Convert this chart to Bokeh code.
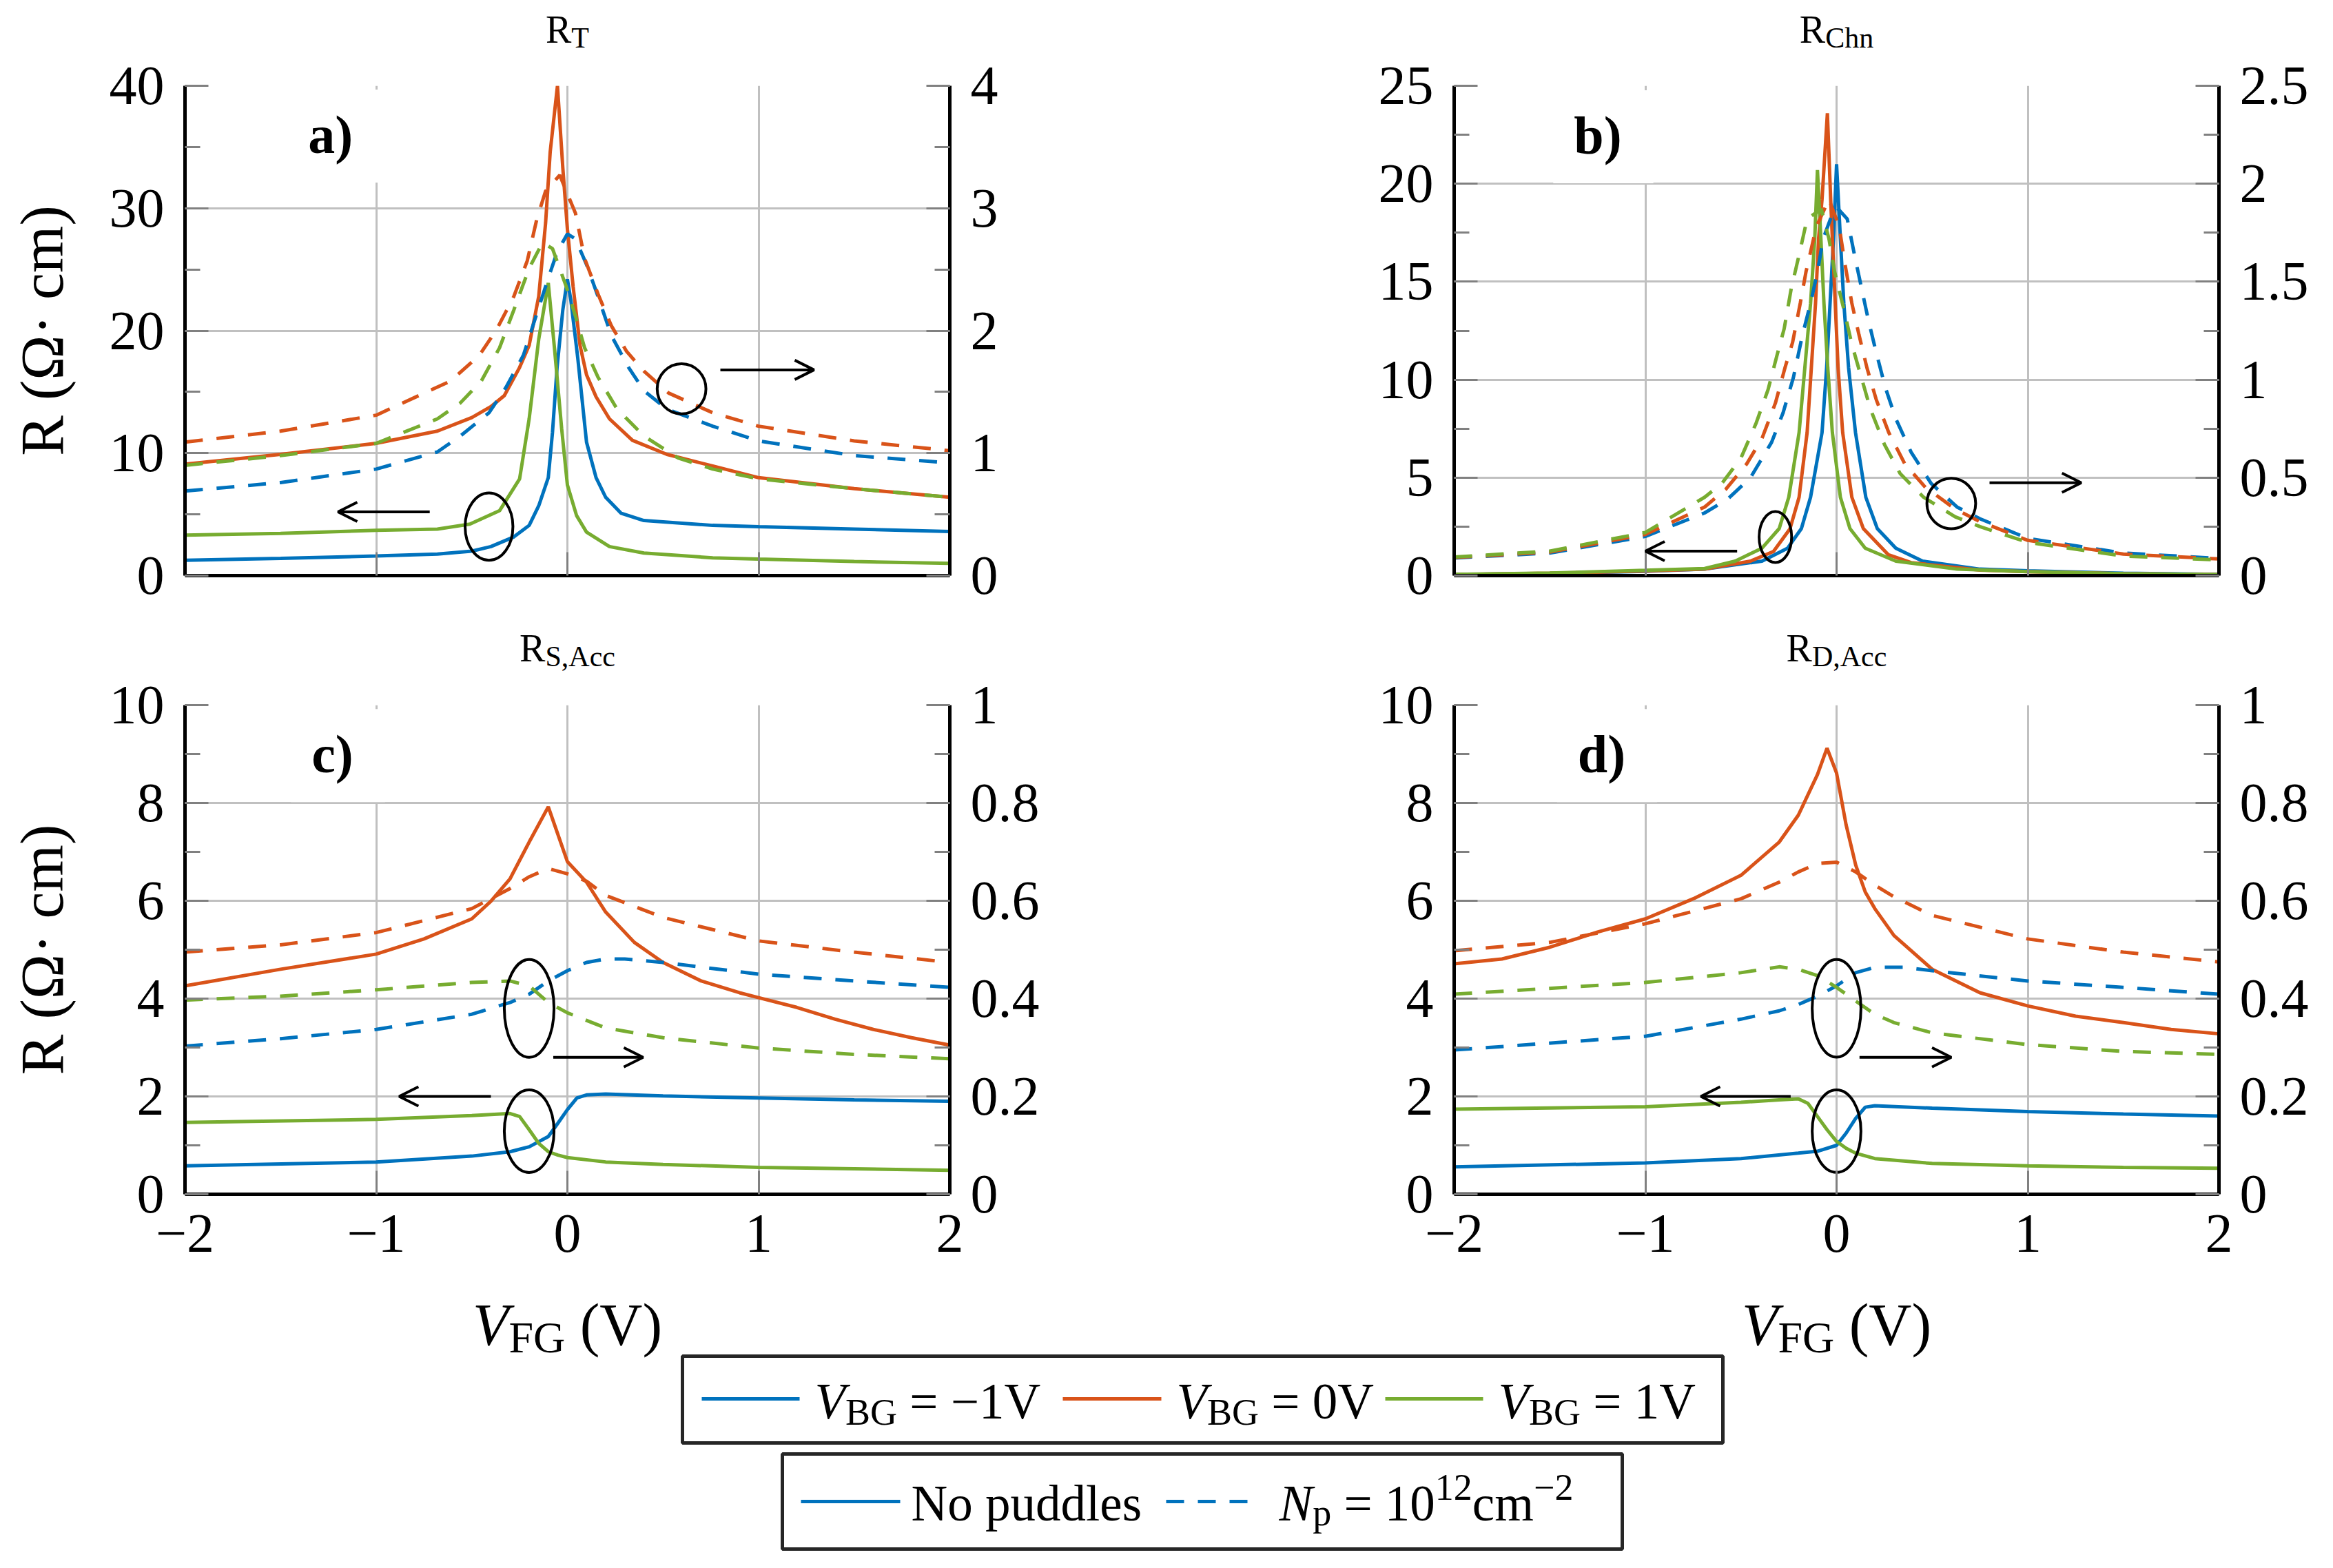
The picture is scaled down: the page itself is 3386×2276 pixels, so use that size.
from bokeh.plotting import figure
from bokeh.models import (Range1d, LinearAxis, SingleIntervalTicker, CustomJSTickFormatter,
                          Label, Arrow, OpenHead)
from bokeh.layouts import column, row
from bokeh.embed import file_html
from bokeh.resources import INLINE
from bokeh.core.properties import value

BLUE = "#0072BD"
ORANGE = "#D95319"
GREEN = "#77AC30"
FONT = "Liberation Serif"

# ---------------- data (solid = no puddles, left axis; dashed = Np, right axis) -------------
# panel a : R_T
a_sb_x = [-2, -1.5, -1, -0.68, -0.5, -0.4, -0.28, -0.2, -0.15, -0.1, -0.078, -0.054, -0.024, 0.0, 0.018, 0.054, 0.1, 0.15, 0.2, 0.28, 0.4, 0.76, 1.0, 1.5, 2.0]
a_sb_y = [1.25, 1.4, 1.6, 1.76, 2.0, 2.37, 3.16, 4.1, 5.7, 8.0, 11.7, 17.0, 21.7, 24.2, 22.5, 17.8, 10.9, 8.0, 6.4, 5.1, 4.5, 4.1, 4.0, 3.8, 3.6]
a_so_x = [-2, -1.5, -1, -0.68, -0.5, -0.4, -0.33, -0.25, -0.2, -0.15, -0.114, -0.09, -0.052, -0.024, 0.0, 0.03, 0.066, 0.1, 0.15, 0.22, 0.34, 0.52, 0.76, 1.0, 1.5, 2.0]
a_so_y = [9.1, 9.9, 10.8, 11.8, 12.9, 13.8, 14.7, 17.0, 18.8, 22.8, 28.8, 34.6, 40.0, 33.3, 28.3, 23.6, 18.8, 16.4, 14.6, 12.8, 11.05, 9.9, 8.95, 8.0, 7.1, 6.4]
a_sg_x = [-2, -1.5, -1, -0.68, -0.51, -0.355, -0.25, -0.2, -0.15, -0.1, -0.066, -0.03, 0.0, 0.048, 0.1, 0.22, 0.4, 0.76, 1.0, 1.5, 2.0]
a_sg_y = [3.3, 3.45, 3.7, 3.8, 4.2, 5.3, 7.9, 12.8, 19.3, 23.9, 18.3, 12.0, 7.4, 4.9, 3.55, 2.37, 1.84, 1.45, 1.35, 1.15, 1.0]
a_do_x = [-2, -1.5, -1, -0.61, -0.46, -0.37, -0.28, -0.21, -0.16, -0.114, -0.04, -0.006, 0.042, 0.09, 0.16, 0.23, 0.31, 0.40, 0.53, 0.76, 1.0, 1.5, 2.0]
a_do_y = [1.09, 1.18, 1.31, 1.59, 1.80, 2.01, 2.28, 2.57, 2.91, 3.14, 3.27, 3.14, 2.96, 2.59, 2.30, 2.04, 1.83, 1.67, 1.49, 1.33, 1.22, 1.10, 1.02]
a_db_x = [-2, -1.5, -1, -0.68, -0.56, -0.41, -0.32, -0.23, -0.16, -0.10, -0.054, 0.0, 0.042, 0.10, 0.16, 0.23, 0.32, 0.40, 0.52, 0.76, 1.0, 1.5, 2.0]
a_db_y = [0.69, 0.76, 0.87, 1.01, 1.14, 1.33, 1.54, 1.80, 2.14, 2.43, 2.64, 2.79, 2.75, 2.54, 2.28, 1.96, 1.70, 1.51, 1.36, 1.22, 1.10, 0.98, 0.92]
a_dg_x = [-2, -1.5, -1, -0.68, -0.56, -0.45, -0.355, -0.28, -0.20, -0.13, -0.078, -0.006, 0.042, 0.09, 0.16, 0.26, 0.40, 0.58, 0.76, 1.0, 1.5, 2.0]
a_dg_y = [0.90, 0.98, 1.08, 1.28, 1.41, 1.59, 1.86, 2.17, 2.51, 2.72, 2.67, 2.36, 2.12, 1.86, 1.62, 1.36, 1.14, 0.96, 0.87, 0.79, 0.71, 0.64]

# panel b : R_Chn
b_sb_x = [-2, -1.5, -1, -0.69, -0.39, -0.256, -0.184, -0.136, -0.076, -0.052, -0.034, -0.016, 0.0, 0.02, 0.038, 0.063, 0.099, 0.153, 0.213, 0.31, 0.45, 0.75, 1.0, 1.5, 2.0]
b_sb_y = [0.05, 0.11, 0.22, 0.33, 0.74, 1.4, 2.4, 4.0, 7.3, 10.6, 13.9, 17.2, 21.0, 17.2, 13.9, 10.6, 7.3, 4.0, 2.4, 1.4, 0.74, 0.33, 0.25, 0.12, 0.06]
b_so_x = [-2, -1.5, -1, -0.69, -0.45, -0.33, -0.244, -0.196, -0.154, -0.132, -0.11, -0.094, -0.076, -0.048, -0.03, -0.022, -0.007, 0.008, 0.032, 0.08, 0.14, 0.27, 0.39, 0.75, 1.0, 1.5, 2.0]
b_so_y = [0.05, 0.12, 0.24, 0.33, 0.74, 1.23, 2.38, 4.0, 7.3, 10.6, 13.9, 17.2, 19.2, 23.6, 19.0, 17.2, 13.9, 10.6, 7.3, 4.0, 2.4, 1.07, 0.66, 0.28, 0.2, 0.1, 0.05]
b_sg_x = [-2, -1.5, -1, -0.69, -0.53, -0.39, -0.30, -0.25, -0.196, -0.166, -0.136, -0.114, -0.1, -0.082, -0.066, -0.046, -0.022, 0.02, 0.07, 0.15, 0.31, 0.63, 1.0, 1.5, 2.0]
b_sg_y = [0.06, 0.13, 0.27, 0.36, 0.74, 1.4, 2.4, 4.0, 7.3, 10.6, 13.9, 17.2, 20.7, 17.2, 13.9, 10.6, 7.3, 4.0, 2.4, 1.4, 0.74, 0.33, 0.2, 0.1, 0.05]
b_do_x = [-2, -1.5, -1, -0.69, -0.58, -0.47, -0.39, -0.32, -0.27, -0.23, -0.19, -0.16, -0.106, -0.04, 0.014, 0.044, 0.08, 0.117, 0.159, 0.207, 0.273, 0.357, 0.465, 0.62, 0.74, 1.0, 1.5, 2.0]
b_do_y = [0.092, 0.12, 0.21, 0.35, 0.44, 0.57, 0.70, 0.88, 1.06, 1.19, 1.39, 1.55, 1.78, 1.92, 1.78, 1.59, 1.39, 1.23, 1.06, 0.90, 0.73, 0.57, 0.45, 0.34, 0.28, 0.18, 0.11, 0.085]
b_db_x = [-2, -1.5, -1, -0.69, -0.57, -0.45, -0.34, -0.28, -0.226, -0.178, -0.136, -0.10, -0.07, -0.028, 0.0, 0.056, 0.093, 0.13, 0.165, 0.207, 0.255, 0.31, 0.39, 0.495, 0.63, 0.75, 1.0, 1.5, 2.0]
b_db_y = [0.09, 0.115, 0.20, 0.32, 0.39, 0.50, 0.68, 0.83, 1.01, 1.23, 1.39, 1.55, 1.72, 1.83, 1.88, 1.82, 1.64, 1.47, 1.31, 1.14, 0.96, 0.80, 0.63, 0.47, 0.35, 0.29, 0.19, 0.115, 0.088]
b_dg_x = [-2, -1.5, -1, -0.69, -0.6, -0.5, -0.42, -0.358, -0.31, -0.274, -0.238, -0.2, -0.154, -0.08, -0.04, -0.01, 0.038, 0.08, 0.13, 0.177, 0.25, 0.333, 0.455, 0.62, 0.75, 1.0, 1.5, 2.0]
b_dg_y = [0.095, 0.125, 0.22, 0.40, 0.47, 0.60, 0.78, 0.95, 1.13, 1.26, 1.46, 1.62, 1.82, 1.87, 1.72, 1.55, 1.36, 1.18, 1.01, 0.85, 0.67, 0.52, 0.40, 0.30, 0.25, 0.17, 0.10, 0.08]

# panel c : R_S,Acc
c_so_x = [-2, -1.5, -1, -0.75, -0.5, -0.4, -0.3, -0.2, -0.1, 0.0, 0.1, 0.2, 0.35, 0.5, 0.7, 0.9, 1.0, 1.2, 1.4, 1.6, 1.8, 2.0]
c_so_y = [4.26, 4.6, 4.91, 5.22, 5.63, 5.99, 6.45, 7.2, 7.92, 6.8, 6.38, 5.77, 5.15, 4.74, 4.36, 4.12, 4.02, 3.82, 3.58, 3.37, 3.2, 3.05]
c_sb_x = [-2, -1, -0.5, -0.3, -0.2, -0.1, -0.05, 0.0, 0.05, 0.1, 0.2, 0.5, 1.0, 1.5, 2.0]
c_sb_y = [0.58, 0.66, 0.78, 0.87, 0.97, 1.18, 1.45, 1.73, 1.97, 2.03, 2.05, 2.01, 1.97, 1.93, 1.90]
c_sg_x = [-2, -1, -0.5, -0.3, -0.25, -0.2, -0.15, -0.1, -0.05, 0.0, 0.2, 0.5, 1.0, 1.5, 2.0]
c_sg_y = [1.47, 1.53, 1.61, 1.65, 1.59, 1.32, 1.04, 0.87, 0.80, 0.75, 0.66, 0.61, 0.55, 0.52, 0.49]
c_do_x = [-2, -1.5, -1, -0.5, -0.3, -0.2, -0.1, 0.0, 0.1, 0.2, 0.5, 1.0, 1.5, 2.0]
c_do_y = [0.495, 0.51, 0.535, 0.584, 0.625, 0.649, 0.666, 0.655, 0.64, 0.611, 0.566, 0.518, 0.495, 0.474]
c_db_x = [-2, -1.5, -1, -0.5, -0.3, -0.2, -0.1, 0.0, 0.1, 0.2, 0.3, 0.5, 1.0, 1.5, 2.0]
c_db_y = [0.303, 0.318, 0.337, 0.368, 0.392, 0.409, 0.436, 0.457, 0.474, 0.481, 0.481, 0.474, 0.45, 0.436, 0.423]
c_dg_x = [-2, -1.5, -1, -0.5, -0.3, -0.2, -0.1, 0.0, 0.2, 0.5, 1.0, 1.5, 2.0]
c_dg_y = [0.397, 0.405, 0.418, 0.433, 0.436, 0.426, 0.392, 0.371, 0.34, 0.32, 0.299, 0.286, 0.277]

# panel d : R_D,Acc
d_so_x = [-2, -1.75, -1.5, -1.25, -1, -0.75, -0.5, -0.3, -0.2, -0.1, -0.05, 0.0, 0.05, 0.1, 0.15, 0.2, 0.3, 0.5, 0.75, 1, 1.25, 1.5, 1.75, 2]
d_so_y = [4.71, 4.81, 5.05, 5.36, 5.63, 6.04, 6.52, 7.2, 7.75, 8.58, 9.12, 8.61, 7.55, 6.73, 6.18, 5.84, 5.29, 4.6, 4.12, 3.85, 3.64, 3.51, 3.37, 3.28]
d_sb_x = [-2, -1, -0.5, -0.2, -0.1, 0.0, 0.05, 0.1, 0.15, 0.2, 0.5, 1, 1.5, 2]
d_sb_y = [0.56, 0.64, 0.73, 0.84, 0.88, 1.0, 1.25, 1.55, 1.78, 1.81, 1.76, 1.69, 1.64, 1.60]
d_sg_x = [-2, -1, -0.5, -0.3, -0.2, -0.15, -0.1, -0.05, 0.0, 0.05, 0.1, 0.2, 0.5, 1, 1.5, 2]
d_sg_y = [1.74, 1.79, 1.88, 1.93, 1.95, 1.86, 1.59, 1.32, 1.08, 0.94, 0.84, 0.73, 0.63, 0.58, 0.55, 0.53]
d_do_x = [-2, -1.5, -1, -0.5, -0.3, -0.2, -0.1, 0.0, 0.1, 0.2, 0.3, 0.5, 1, 1.5, 2]
d_do_y = [0.498, 0.515, 0.553, 0.604, 0.638, 0.659, 0.676, 0.679, 0.659, 0.632, 0.608, 0.57, 0.522, 0.495, 0.475]
d_db_x = [-2, -1, -0.5, -0.3, -0.2, -0.1, 0.0, 0.1, 0.2, 0.35, 0.5, 1, 1.5, 2]
d_db_y = [0.295, 0.323, 0.358, 0.375, 0.388, 0.405, 0.426, 0.453, 0.464, 0.464, 0.457, 0.436, 0.423, 0.409]
d_dg_x = [-2, -1, -0.5, -0.3, -0.2, -0.1, 0.0, 0.1, 0.2, 0.3, 0.5, 1, 1.5, 2]
d_dg_y = [0.409, 0.433, 0.453, 0.465, 0.46, 0.447, 0.423, 0.395, 0.368, 0.351, 0.33, 0.306, 0.292, 0.286]

# annotation marks (left-axis units): ellipses (x, y, w, h) and arrows (x0, y0, x1, y1)
a_ell = [(-0.41, 4.0, 0.25, 5.5), (0.597, 15.25, 0.255, 4.1)]
a_arr = [(-0.72, 5.2, -1.2, 5.2), (0.80, 16.8, 1.29, 16.8)]
b_ell = [(-0.32, 1.97, 0.17, 2.6), (0.60, 3.68, 0.255, 2.57)]
b_arr = [(-0.52, 1.25, -1.0, 1.25), (0.80, 4.74, 1.28, 4.74)]
c_ell = [(-0.2, 3.8, 0.26, 2.0), (-0.2, 1.29, 0.26, 1.69)]
c_arr = [(-0.074, 2.8, 0.396, 2.8), (-0.4, 2.0, -0.88, 2.0)]
d_ell = [(0.0, 3.8, 0.255, 2.0), (0.0, 1.29, 0.255, 1.69)]
d_arr = [(0.12, 2.8, 0.6, 2.8), (-0.24, 2.0, -0.71, 2.0)]

panel_tags = ["a)", "b)", "c)", "d)"]
tag_pos = [(-1.21, 35.9), (-1.22, 22.4), (-1.2, 8.97), (-1.2, 8.97)]
title_subs = ["T", "Chn", "S,Acc", "D,Acc"]

legend1_labels = ["\u22121V", "0V", "1V"]
legend2_labels = ["No puddles"]

# ---------------- text helpers ----------------
W_REG = {' ': .25, '(': .333, ')': .333, ',': .25, '\u2212': .564, '=': .564, '.': .25,
         'A': .722, 'B': .667, 'C': .667, 'D': .722, 'F': .556, 'G': .722, 'N': .722, 'R': .667,
         'S': .556, 'T': .611, 'V': .722, 'c': .444, 'd': .5, 'e': .444, 'h': .5, 'l': .278,
         'm': .778, 'n': .5, 'o': .5, 'p': .5, 's': .389, 'u': .5}
W_IT = {'V': .611, 'N': .667, 'p': .5}
BASE_SHIFT = 0.21   # observed offset of the rendered baseline below the anchor, in em


def tw(s, size, style):
    d = W_IT if style == "italic" else W_REG
    return sum(d.get(ch, 0.5) for ch in s) * size


def rich(p, x, y, parts, align="center"):
    """Text made of fragments, drawn as text glyphs in a pixel-coordinate strip (y grows downward).
    y is the wanted baseline; dy > 0 raises a fragment (superscript), dy < 0 lowers it."""
    total = sum(tw(t, s, st) for t, s, dy, st in parts)
    cur = x - total / 2 if align == "center" else x
    for t, s, dy, st in parts:
        stripped = t.lstrip(" ")
        cur += (len(t) - len(stripped)) * 0.25 * s
        p.text(x=[cur], y=[y - dy - BASE_SHIFT * s], text=[stripped], text_font=value(FONT),
               text_font_size=value(f"{s}px"), text_font_style=value(st),
               text_align=value("left"), text_baseline=value("alphabetic"), text_color="black")
        cur += tw(stripped, s, st)


num_fmt = CustomJSTickFormatter(code="return parseFloat(tick.toFixed(3)).toString();")
x_fmt = CustomJSTickFormatter(code="const t = Math.round(tick); return t < 0 ? '\\u2212' + (-t) : '' + t;")
no_fmt = CustomJSTickFormatter(code="return '';")

FW = 1110
TOTAL_W = 3365
TICK_FS = "80px"
CENTER_L = 268 + FW / 2
CENTER_R = 2110 + FW / 2
TOP_B = 45
TFS, TSS = 56, 42


def style_axis(ax, ticker, fmt, minor=True):
    ax.ticker = ticker
    ax.formatter = fmt
    ax.axis_line_color = "black"
    ax.axis_line_width = 5
    ax.major_tick_in = 34
    ax.major_tick_out = 0
    ax.minor_tick_in = 22 if minor else 0
    ax.minor_tick_out = 0
    ax.major_tick_line_color = "#808080"
    ax.minor_tick_line_color = "#808080"
    ax.major_tick_line_width = 3
    ax.minor_tick_line_width = 3
    ax.major_label_text_font = FONT
    ax.major_label_text_font_size = TICK_FS
    ax.major_label_text_color = "black"
    ax.major_label_standoff = 30
    ax.axis_label_text_font = FONT
    ax.axis_label_text_font_size = "88px"
    ax.axis_label_text_font_style = "normal"
    ax.axis_label_text_color = "black"


def make_panel(idx, ymax, yint, rmax, rint, borders, fh, xlabels, ylabel, series, ells, arrs):
    L, R, T, B = borders
    p = figure(frame_width=FW, frame_height=fh, x_range=Range1d(-2, 2), y_range=Range1d(0, ymax),
               min_border_left=L, min_border_right=R, min_border_top=T, min_border_bottom=B,
               toolbar_location=None, output_backend="svg", outline_line_color=None,
               background_fill_color="white", border_fill_color="white")
    p.extra_y_ranges = {"r": Range1d(0, rmax)}
    style_axis(p.xaxis[0], SingleIntervalTicker(interval=1, num_minor_ticks=0),
               x_fmt if xlabels else no_fmt, minor=False)
    style_axis(p.yaxis[0], SingleIntervalTicker(interval=yint, num_minor_ticks=2), num_fmt)
    if ylabel:
        p.yaxis[0].axis_label = "R (\u03a9\u00b7 cm)"
        p.yaxis[0].axis_label_standoff = 46
    rax = LinearAxis(y_range_name="r")
    style_axis(rax, SingleIntervalTicker(interval=rint, num_minor_ticks=2), num_fmt)
    p.add_layout(rax, "right")
    p.xgrid.grid_line_color = "#c0c0c0"
    p.ygrid.grid_line_color = "#c0c0c0"
    p.xgrid.grid_line_width = 3
    p.ygrid.grid_line_width = 3

    tx, ty = tag_pos[idx]
    p.add_layout(Label(x=tx, y=ty, text=panel_tags[idx], text_font=FONT, text_font_size="78px",
                       text_font_style="bold", text_align="center", text_baseline="middle",
                       text_color="black", background_fill_color="white",
                       padding=dict(left=30, right=46, top=22, bottom=26), level="underlay"))

    colors = [BLUE, ORANGE, GREEN]
    solids, dashes = series
    for (xs, ys), c in zip(solids, colors):
        p.line(xs, ys, line_color=c, line_width=5)
    for (xs, ys), c in zip(dashes, colors):
        p.line(xs, ys, line_color=c, line_width=5, line_dash="26 20", y_range_name="r")

    p.ellipse(x=[e[0] for e in ells], y=[e[1] for e in ells], width=[e[2] for e in ells],
              height=[e[3] for e in ells], fill_color=None, line_color="black", line_width=4)
    for x0, y0, x1, y1 in arrs:
        p.add_layout(Arrow(end=OpenHead(size=28, line_width=4, line_color="black"),
                           x_start=x0, y_start=y0, x_end=x1, y_end=y1,
                           line_width=4, line_color="black"))
    return p


def make_strip(h):
    s = figure(frame_width=TOTAL_W, frame_height=h, x_range=Range1d(0, TOTAL_W), y_range=Range1d(h, 0),
               toolbar_location=None, output_backend="svg", x_axis_location=None,
               y_axis_location=None, min_border=0, outline_line_color=None)
    s.grid.visible = False
    return s


# title strips (wanted baselines: main text; subscript sits 9 px lower)
st1 = make_strip(79)
rich(st1, CENTER_L, 54, [("R", TFS, 0, "normal"), (title_subs[0], TSS, -9, "normal")])
rich(st1, CENTER_R, 54, [("R", TFS, 0, "normal"), (title_subs[1], TSS, -9, "normal")])
st2 = make_strip(83)
rich(st2, CENTER_L, 57, [("R", TFS, 0, "normal"), (title_subs[2], TSS, -9, "normal")])
rich(st2, CENTER_R, 57, [("R", TFS, 0, "normal"), (title_subs[3], TSS, -9, "normal")])

pa = make_panel(0, 40, 10, 4, 1, (268, 200, TOP_B, 60), 711, False, True,
                ([(a_sb_x, a_sb_y), (a_so_x, a_so_y), (a_sg_x, a_sg_y)],
                 [(a_db_x, a_db_y), (a_do_x, a_do_y), (a_dg_x, a_dg_y)]), a_ell, a_arr)
pb = make_panel(1, 25, 5, 2.5, 0.5, (532, 145, TOP_B, 60), 711, False, False,
                ([(b_sb_x, b_sb_y), (b_so_x, b_so_y), (b_sg_x, b_sg_y)],
                 [(b_db_x, b_db_y), (b_do_x, b_do_y), (b_dg_x, b_dg_y)]), b_ell, b_arr)
pc = make_panel(2, 10, 2, 1, 0.2, (268, 200, TOP_B, 125), 710, True, True,
                ([(c_sb_x, c_sb_y), (c_so_x, c_so_y), (c_sg_x, c_sg_y)],
                 [(c_db_x, c_db_y), (c_do_x, c_do_y), (c_dg_x, c_dg_y)]), c_ell, c_arr)
pd_ = make_panel(3, 10, 2, 1, 0.2, (532, 145, TOP_B, 125), 710, True, False,
                 ([(d_sb_x, d_sb_y), (d_so_x, d_so_y), (d_sg_x, d_sg_y)],
                  [(d_db_x, d_db_y), (d_do_x, d_do_y), (d_dg_x, d_dg_y)]), d_ell, d_arr)

# ---------------- bottom strip: x labels and legends (pixel coordinates) ----------------
pl = make_strip(400)
for cx in (CENTER_L, CENTER_R):
    rich(pl, cx, 83, [("V", 86, 0, "italic"), ("FG", 64, -13, "normal"), (" (V)", 86, 0, "normal")])
pl.quad(left=[990, 1135], right=[2500, 2354], top=[110, 252], bottom=[236, 390],
        fill_color=None, line_color="#262626", line_width=5)
LFS, LSS = 73, 54
for x0, x1, c, tx, lab in [(1018, 1160, BLUE, 1182, legend1_labels[0]),
                           (1542, 1685, ORANGE, 1707, legend1_labels[1]),
                           (2010, 2152, GREEN, 2174, legend1_labels[2])]:
    pl.line([x0, x1], [172, 172], line_color=c, line_width=5)
    rich(pl, tx, 191, [("V", LFS, 0, "italic"), ("BG", LSS, -12, "normal"),
                       (" = " + lab, LFS, 0, "normal")], align="left")
pl.line([1162, 1306], [321, 321], line_color=BLUE, line_width=5)
rich(pl, 1322, 339, [(legend2_labels[0], LFS, 0, "normal")], align="left")
pl.line([1692, 1818], [321, 321], line_color=BLUE, line_width=5, line_dash="26 20")
rich(pl, 1856, 339, [("N", LFS, 0, "italic"), ("p", LSS, -10, "normal"), (" = 10", LFS, 0, "normal"),
                     ("12", LSS, 27, "normal"), ("cm", LFS, 0, "normal"), ("\u22122", LSS, 27, "normal")],
     align="left")

layout = column(st1, row(pa, pb), st2, row(pc, pd_), pl)
open("out.html", "w").write(file_html(layout, INLINE))
